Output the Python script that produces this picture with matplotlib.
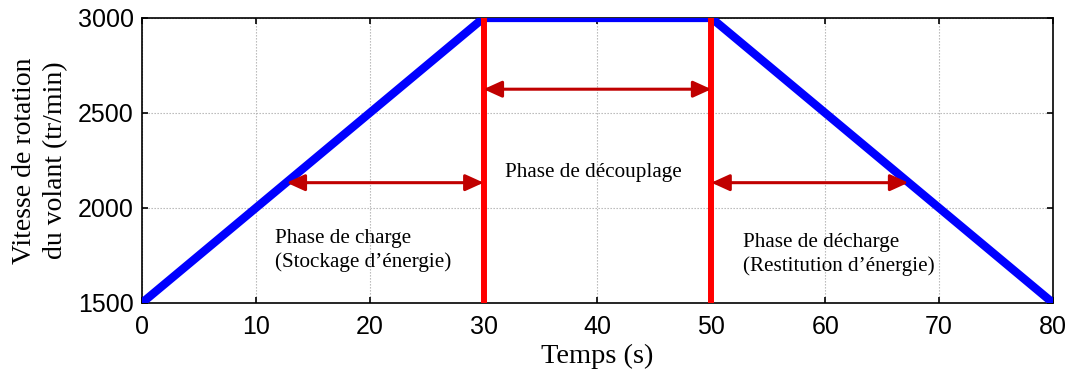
import numpy as np
import matplotlib
matplotlib.use("Agg")
import matplotlib.pyplot as plt

# Speed profile of the flywheel (time in s, speed in tr/min)
temps = [0, 30, 50, 80]
vitesse = [1500, 3000, 3000, 1500]

# Phase boundaries
limites = [30, 50]

# Double arrows: (x start, x end, y)
fleches = [
    (12.7, 30, 2133),
    (30, 50, 2625),
    (50, 67.3, 2133),
]

# Annotation texts: (x, y, text)
textes = [
    (11.7, 1774, "Phase de charge\n(Stockage d\u2019\u00e9nergie)"),
    (31.9, 2186, "Phase de d\u00e9couplage"),
    (52.8, 1753, "Phase de d\u00e9charge\n(Restitution d\u2019\u00e9nergie)"),
]

serif = "Liberation Serif"
sans = "Liberation Sans"

fig = plt.figure(figsize=(10.69, 3.74), dpi=100)
ax = fig.add_axes([0.1328, 0.190, 0.8522, 0.762])

ax.plot(temps, vitesse, color="#0000ff", linewidth=6, solid_capstyle="butt", zorder=3)
for xl in limites:
    ax.plot([xl, xl], [1500, 3000], color="#ff0000", linewidth=4.3, zorder=4,
            solid_capstyle="butt", clip_on=False)

for x0, x1, y in fleches:
    ax.annotate("", xy=(x1, y), xytext=(x0, y),
                arrowprops=dict(arrowstyle="<|-|>,head_length=1.1,head_width=0.5",
                                color="#c00000", linewidth=2.2,
                                shrinkA=0, shrinkB=0),
                zorder=5)

for x, y, t in textes:
    ax.text(x, y, t, family=serif, fontsize=15.2, va="center", ha="left",
            linespacing=1.3, zorder=6)

ax.set_xlim(0, 80)
ax.set_ylim(1500, 3000)
ax.set_xticks(np.arange(0, 81, 10))
ax.set_yticks([1500, 2000, 2500, 3000])
ax.grid(True, color="#b0b0b0", linestyle=(0, (1.2, 1.5)), linewidth=0.8)
ax.set_axisbelow(True)

ax.tick_params(direction="in", top=True, right=True, length=4, width=1.2,
               labelsize=18)
ax.tick_params(axis="x", pad=9)
ax.tick_params(axis="y", pad=6)
for lab in ax.get_xticklabels() + ax.get_yticklabels():
    lab.set_family(sans)
for sp in ax.spines.values():
    sp.set_linewidth(1.2)

ax.set_xlabel("Temps (s)", family=serif, fontsize=20.5, labelpad=3)
ax.set_ylabel("Vitesse de rotation\ndu volant (tr/min)", family=serif,
              fontsize=20, labelpad=7, linespacing=1.3)

fig.savefig("out.png", dpi=100)
